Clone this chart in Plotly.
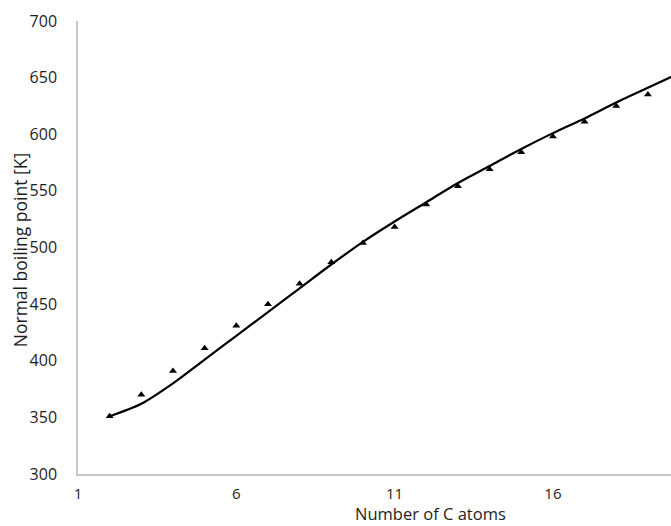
import plotly.graph_objects as go

# Measured normal boiling points of 1-alkanols (C2..C19)
carbons = [2, 3, 4, 5, 6, 7, 8, 9, 10, 11, 12, 13, 14, 15, 16, 17, 18, 19]
tb_exp = [351, 370, 391, 411, 431, 450, 468, 487, 504, 518, 538, 554,
          569, 584, 598, 611, 625, 635]

# Model prediction
model_c = [2, 3, 4, 5, 6, 7, 8, 9, 10, 11, 12, 13, 14, 15, 16, 17, 18, 19, 20]
tb_model = [351, 362, 380, 401, 422, 443, 464, 485, 505, 523, 540, 557,
            572, 587, 601, 614, 628, 641, 654]

x_ticks = [1, 6, 11, 16]
y_ticks = [300, 350, 400, 450, 500, 550, 600, 650, 700]

FONT = "'Open Sans', Lato, sans-serif"
TEXT = "#1e1e1e"
AXIS_GREY = "#c6c6c6"

fig = go.Figure()
fig.add_trace(go.Scatter(
    x=model_c, y=tb_model, mode="lines",
    line=dict(color="black", width=2.2, shape="spline", smoothing=0.8),
    showlegend=False, hoverinfo="skip",
))
fig.add_trace(go.Scatter(
    x=carbons, y=tb_exp, mode="markers",
    marker=dict(symbol="triangle-up", size=7, color="black"),
    showlegend=False,
))

fig.update_layout(
    width=671, height=526,
    margin=dict(l=78, r=0, t=21, b=52),
    paper_bgcolor="white", plot_bgcolor="white",
    font=dict(family=FONT, size=16, color=TEXT),
    xaxis=dict(
        range=[1, 19.73], tickvals=x_ticks, ticktext=[str(v) for v in x_ticks],
        showgrid=False, zeroline=False, showline=True, linecolor=AXIS_GREY,
        linewidth=1.5, ticks="", ticklabelstandoff=5,
        tickfont=dict(family=FONT, size=15, color=TEXT),
    ),
    yaxis=dict(
        range=[300, 700], tickvals=y_ticks, ticktext=[str(v) for v in y_ticks],
        showgrid=False, zeroline=False, showline=True, linecolor=AXIS_GREY,
        linewidth=1.5, ticks="", ticklabelstandoff=16,
        tickfont=dict(family=FONT, size=16, color=TEXT),
    ),
    annotations=[
        dict(text="Number of C atoms", xref="paper", yref="paper",
             x=0.595, y=0, yshift=-52, showarrow=False, xanchor="center",
             yanchor="bottom", borderpad=0,
             font=dict(family=FONT, size=16.5, color=TEXT)),
        dict(text="Normal boiling point [K]", xref="paper", yref="paper",
             x=0, xshift=-58, y=0.494, showarrow=False, textangle=-90,
             xanchor="center", yanchor="middle",
             font=dict(family=FONT, size=17.5, color=TEXT)),
    ],
)

fig.write_html("out.html")
